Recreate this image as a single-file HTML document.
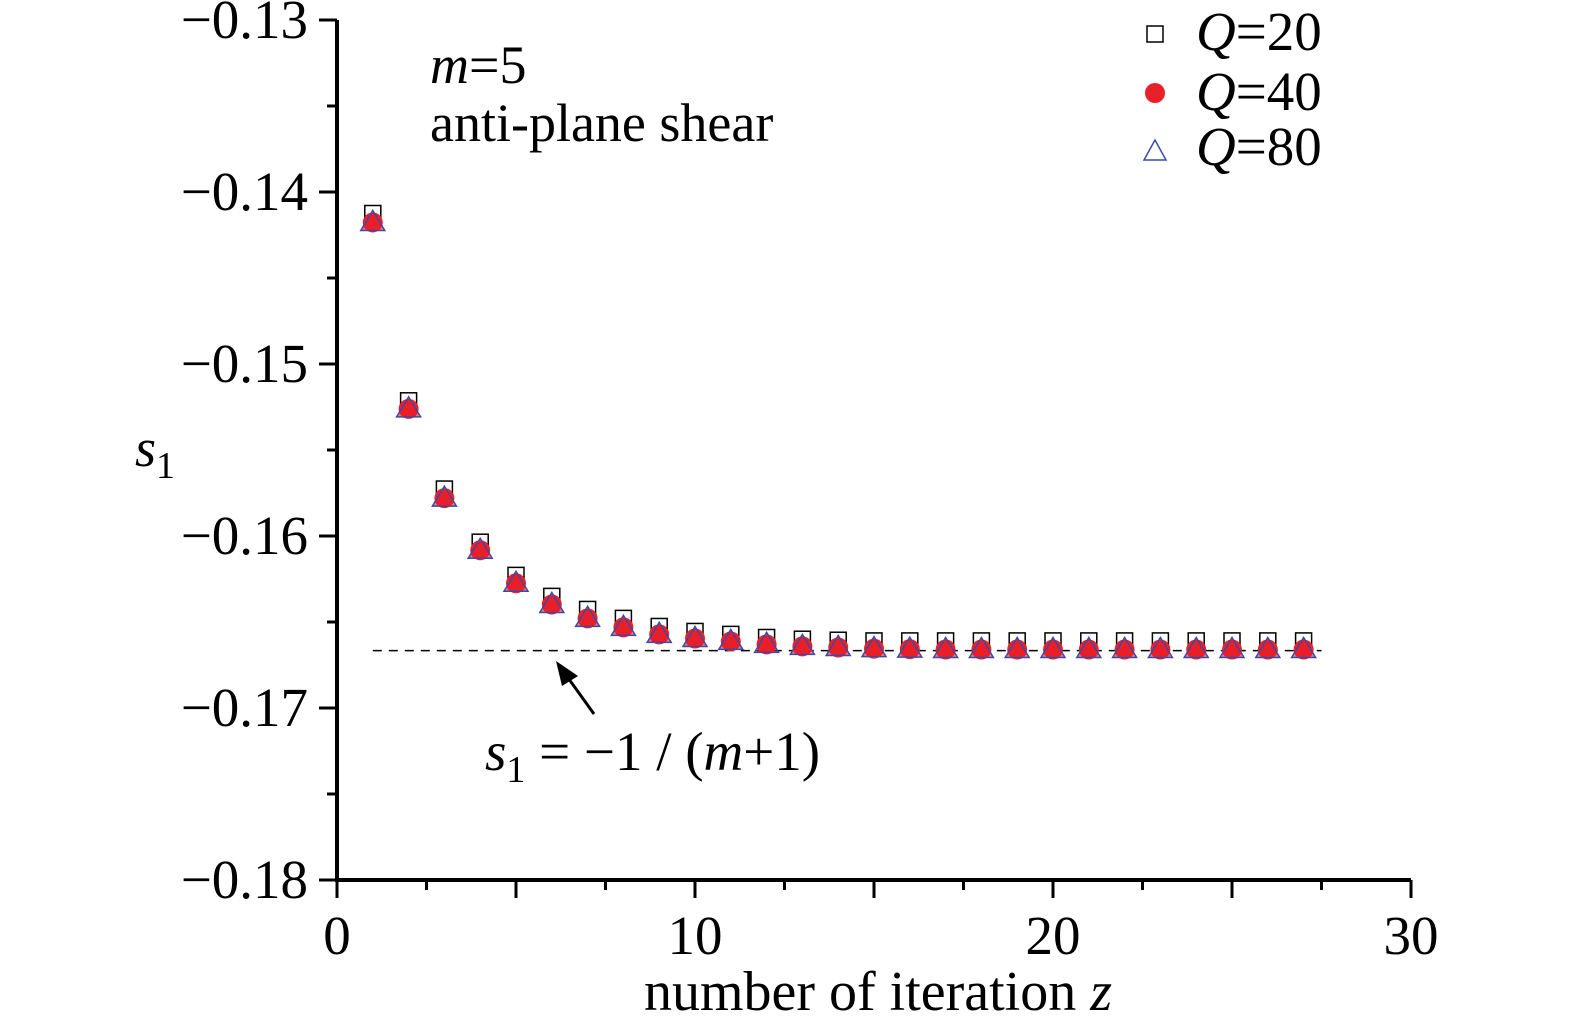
<!DOCTYPE html>
<html><head><meta charset="utf-8"><style>
html,body{margin:0;padding:0;background:#fff;}
svg{display:block;font-family:"Liberation Serif",serif;}
</style></head><body>
<svg id="chart" width="1575" height="1018" viewBox="0 0 1575 1018" xmlns="http://www.w3.org/2000/svg">
<g id="axes"></g>
<g id="marks"></g>
<text x="430" y="83" font-size="54"><tspan font-style="italic">m</tspan>=5</text>
<text x="430" y="141" font-size="54">anti-plane shear</text>
<text x="135" y="466" font-size="54" font-style="italic">s<tspan font-size="38" font-style="normal" dy="12">1</tspan></text>
<text x="878" y="1010" font-size="56" text-anchor="middle">number of iteration <tspan font-style="italic">z</tspan></text>
<text x="485" y="770" font-size="55"><tspan font-style="italic">s</tspan><tspan font-size="38" dy="12">1</tspan><tspan dy="-12"> = −1 / (</tspan><tspan font-style="italic">m</tspan>+1)</text>
<g>
<line x1="594" y1="714" x2="566" y2="675" stroke="#000" stroke-width="3"/>
<polygon points="556,661 578,676 562,686" fill="#000"/>
</g>
<g>
<rect x="1147" y="26" width="16" height="16" fill="none" stroke="#000" stroke-width="1.5"/>
<text x="1196" y="50" font-size="55"><tspan font-style="italic">Q</tspan>=20</text>
<circle cx="1155" cy="93" r="10" fill="#e8202a"/>
<text x="1196" y="110" font-size="55"><tspan font-style="italic">Q</tspan>=40</text>
<polygon points="1155,140 1144,160 1166,160" fill="none" stroke="#3a4aa8" stroke-width="1.5"/>
<text x="1196" y="165" font-size="55"><tspan font-style="italic">Q</tspan>=80</text>
</g>
</svg>
<script>
const iterations = [1,2,3,4,5,6,7,8,9,10,11,12,13,14,15,16,17,18,19,20,21,22,23,24,25,26,27];
const q20 = [-0.14125,-0.15214,-0.15727,-0.16036,-0.16229,-0.16351,-0.16427,-0.16479,-0.16526,-0.16555,-0.16572,-0.1659,-0.166,-0.16606,-0.1661,-0.1661,-0.1661,-0.1661,-0.1661,-0.1661,-0.1661,-0.1661,-0.1661,-0.1661,-0.1661,-0.1661,-0.1661];
const q40 = [-0.14177,-0.15261,-0.1578,-0.16083,-0.16275,-0.16398,-0.16479,-0.16531,-0.16572,-0.16596,-0.16613,-0.1663,-0.16642,-0.16648,-0.16655,-0.16658,-0.1666,-0.1666,-0.1666,-0.1666,-0.1666,-0.1666,-0.1666,-0.1666,-0.1666,-0.1666,-0.1666];
const q80 = [-0.14177,-0.15261,-0.1578,-0.16083,-0.16275,-0.16398,-0.16479,-0.16531,-0.16572,-0.16596,-0.16613,-0.1663,-0.16642,-0.16648,-0.16655,-0.16658,-0.1666,-0.1666,-0.1666,-0.1666,-0.1666,-0.1666,-0.1666,-0.1666,-0.1666,-0.1666,-0.1666];
const xTicks = [0,10,20,30];
const yTicks = [-0.13,-0.14,-0.15,-0.16,-0.17,-0.18];
const yTickLabels = ["−0.13","−0.14","−0.15","−0.16","−0.17","−0.18"];
const asymptote = -1/6;

const NS="http://www.w3.org/2000/svg";
const X0=337, X1=1411, Y0=880, Y1=20;
const xs = v => X0 + (v-0)/(30-0)*(X1-X0);
const ys = v => Y0 - (v-(-0.18))/(0.05)*(Y0-Y1);
function mk(tag, attrs, parent){const e=document.createElementNS(NS,tag);for(const k in attrs)e.setAttribute(k,attrs[k]);parent.appendChild(e);return e;}
const axes=document.getElementById('axes'), marks=document.getElementById('marks');

let e=mk('line',{x1:X0,y1:Y0,x2:X1,y2:Y0,stroke:'#000','stroke-width':4},axes);


e=mk('line',{x1:X0,y1:Y0+2,x2:X0,y2:Y1,stroke:'#000','stroke-width':4},axes);



for(let v=0; v<=30.001; v+=2.5){
  const major = Math.abs(v%5)<0.01;
  e=mk('line',{x1:xs(v),y1:Y0,x2:xs(v),y2:Y0+(major?18:10),stroke:'#000','stroke-width':3},axes);
  
  
}
xTicks.forEach(v=>{
  e=mk('text',{x:xs(v),y:954,'font-size':55,'text-anchor':'middle'},axes);e.textContent=v;
  
  
});
for(let i=0;i<=10;i++){
  const v=-0.13-i*0.005, major=i%2===0;
  e=mk('line',{x1:X0,y1:ys(v),x2:X0-(major?18:10),y2:ys(v),stroke:'#000','stroke-width':3},axes);
  
  
}
yTicks.forEach((v,i)=>{
  e=mk('text',{x:308,y:ys(v)+18,'font-size':55,'text-anchor':'end'},axes);e.textContent=yTickLabels[i];
  
  
});
e=mk('line',{x1:xs(1),y1:ys(asymptote),x2:xs(27.5),y2:ys(asymptote),stroke:'#000','stroke-width':1.5,'stroke-dasharray':'9 7'},marks);



iterations.forEach((z,i)=>{
  const cx=xs(z);
  let r=mk('rect',{x:cx-8,y:ys(q20[i])-8,width:16,height:16,fill:'none',stroke:'#000','stroke-width':1.5},marks);
  
  
});
iterations.forEach((z,i)=>{
  let c=mk('circle',{cx:xs(z),cy:ys(q40[i]),r:10,fill:'#e8202a'},marks);
  
  
});
iterations.forEach((z,i)=>{
  const cx=xs(z), cy=ys(q80[i]);
  let t=mk('polygon',{points:`${cx},${cy-12} ${cx-12},${cy+8} ${cx+12},${cy+8}`,fill:'#e8202a','fill-opacity':0.6,stroke:'#3a4aa8','stroke-width':1.5},marks);
  
  
});
</script>
</body></html>
